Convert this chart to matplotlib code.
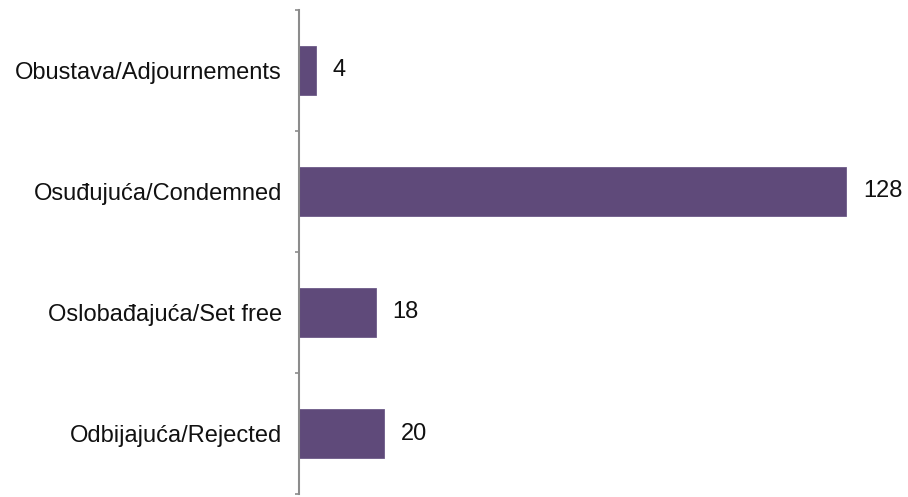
import matplotlib.pyplot as plt
from matplotlib.ticker import FixedLocator

categories = ["Obustava/Adjournements", "Osuđujuća/Condemned",
              "Oslobađajuća/Set free", "Odbijajuća/Rejected"]
values = [4, 128, 18, 20]

plt.rcParams['font.family'] = ['Liberation Sans', 'DejaVu Sans']

fig = plt.figure(figsize=(9.08, 4.97), dpi=100)
ax = fig.add_axes([298.5 / 908, 3 / 497, 599 / 908, 484 / 497])

ypos = list(range(len(categories)))
bar_color = "#5f4a7a"
ax.barh(ypos, values, height=0.4, color=bar_color, edgecolor="#6d5a88", linewidth=0.6)

for y, v in zip(ypos, values):
    ax.annotate(str(v), xy=(v, y), xytext=(12, 0), textcoords="offset points",
                va="center", ha="left", fontsize=17, color="#111111")

ax.set_ylim(len(categories) - 0.5, -0.5)
ax.set_xlim(0, 140)
ax.set_yticks(ypos)
ax.set_yticklabels(categories, fontsize=17, color="#111111")
ax.tick_params(axis="y", which="major", length=0, pad=12)
ax.yaxis.set_minor_locator(FixedLocator([i - 0.5 for i in range(len(categories) + 1)]))
ax.tick_params(axis="y", which="minor", length=3, width=1.2, color="#8c8c8c", direction="out")

ax.set_xticks([])
for side in ("top", "right", "bottom"):
    ax.spines[side].set_visible(False)
ax.spines["left"].set_color("#8c8c8c")
ax.spines["left"].set_linewidth(1.5)

fig.savefig("out.png", dpi=100)
